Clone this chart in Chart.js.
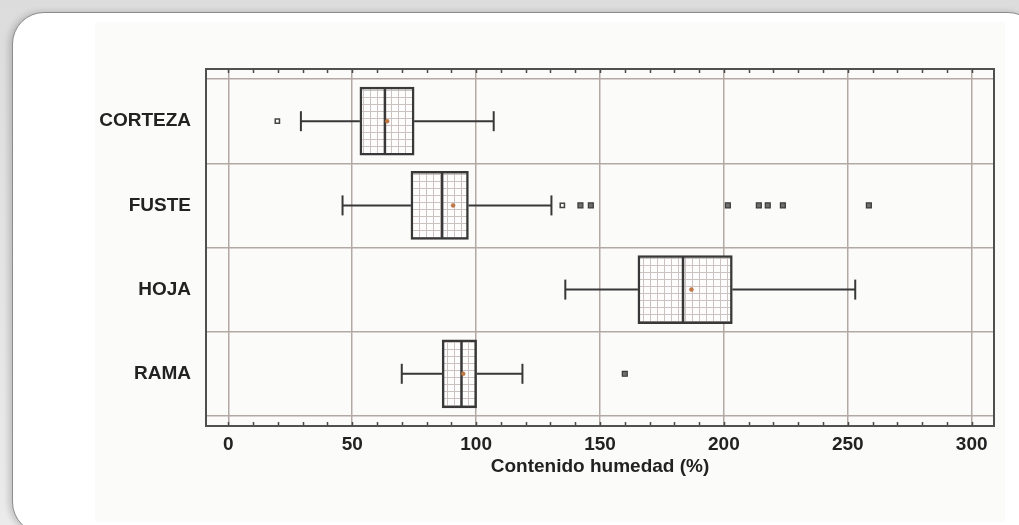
<!DOCTYPE html>
<html>
<head>
<meta charset="utf-8">
<title>Contenido humedad</title>
<script src="https://cdn.jsdelivr.net/npm/chart.js@4.4.1/dist/chart.umd.min.js"></script>
<style>
  html, body { margin: 0; padding: 0; }
  body {
    width: 1019px; height: 525px; overflow: hidden; position: relative;
    background: linear-gradient(#dcdcdc, #ebebeb);
  }
  #card {
    position: absolute; left: 12px; top: 12px; width: 1026px; height: 520px;
    background: #fff; border: 1px solid #8c8c8c; border-radius: 32px;
    box-shadow: -3px 0 6px rgba(0,0,0,0.18);
  }
  #panel {
    position: absolute; left: 95px; top: 22px; width: 910px; height: 500px;
    background: #fbfbfa;
  }
  #wrap { position: absolute; left: 0; top: 0; width: 1019px; height: 525px; }
</style>
</head>
<body>
<div id="card"></div>
<div id="panel"></div>
<div id="wrap"><canvas id="c" width="1019" height="525"></canvas></div>
<script>
// Moisture content (%) by tree component: box-and-whisker summary
const categories = ['CORTEZA', 'FUSTE', 'HOJA', 'RAMA'];
const whiskerLow  = [29.3, 46.1, 136.0, 70.0];
const quartile1   = [53.1, 73.7, 165.3, 86.3];
const medians     = [63.2, 86.3, 183.5, 94.1];
const means       = [64.1, 90.7, 186.9, 94.8];
const quartile3   = [75.0, 96.9, 203.4, 100.2];
const whiskerHigh = [107.1, 130.4, 253.0, 118.7];
const outsidePoints    = [[19.8], [134.8], [], []];
const farOutsidePoints = [[], [142.1, 146.3, 201.6, 214.1, 217.7, 223.8, 258.5], [], [160.0]];
const xTickValues = [0, 50, 100, 150, 200, 250, 300];
const xMin = -9, xMax = 309;
const minorStep = 10;
const axisTitle = 'Contenido humedad (%)';

const gridColor = '#b4a8a5';
const inkColor = '#383838';
const textFont = { family: "'Liberation Sans', Arial, sans-serif", size: 19, weight: 'bold' };

// light square grid used as the box fill
function gridPattern() {
  const p = document.createElement('canvas');
  p.width = 7; p.height = 7;
  const g = p.getContext('2d');
  g.fillStyle = '#fdfdfd';
  g.fillRect(0, 0, 7, 7);
  g.strokeStyle = '#cdc2c2';
  g.lineWidth = 1;
  g.beginPath();
  g.moveTo(6.5, 0); g.lineTo(6.5, 7);
  g.moveTo(0, 6.5); g.lineTo(7, 6.5);
  g.stroke();
  return document.getElementById('c').getContext('2d').createPattern(p, 'repeat');
}

// datasets built from the summary arrays
const boxData = categories.map((c, i) => ({ x: [quartile1[i], quartile3[i]], y: i }));
const whiskerData = [];
categories.forEach((c, i) => {
  whiskerData.push({ x: whiskerLow[i], y: i }, { x: quartile1[i], y: i }, { x: NaN, y: NaN });
  whiskerData.push({ x: quartile3[i], y: i }, { x: whiskerHigh[i], y: i }, { x: NaN, y: NaN });
});
const capData = [];
categories.forEach((c, i) => {
  capData.push({ x: whiskerLow[i], y: i }, { x: whiskerHigh[i], y: i });
});
const medianData = categories.map((c, i) => ({ x: medians[i], y: i }));
const meanData = categories.map((c, i) => ({ x: means[i], y: i }));
const outsideData = [];
outsidePoints.forEach((vals, i) => vals.forEach(v => outsideData.push({ x: v, y: i })));
const farData = [];
farOutsidePoints.forEach((vals, i) => vals.forEach(v => farData.push({ x: v, y: i })));

// outer frame with small tick marks every minorStep along top and bottom
const framePlugin = {
  id: 'frame',
  afterDraw(chart) {
    const { ctx, chartArea: a, scales } = chart;
    ctx.save();
    ctx.strokeStyle = '#4a4a4a';
    ctx.lineWidth = 1.5;
    ctx.beginPath();
    for (let v = xTickValues[0]; v <= xTickValues[xTickValues.length - 1]; v += minorStep) {
      const px = Math.round(scales.x.getPixelForValue(v)) + 0.5;
      ctx.moveTo(px, a.top); ctx.lineTo(px, a.top + 4);
      ctx.moveTo(px, a.bottom); ctx.lineTo(px, a.bottom - 4);
    }
    ctx.stroke();
    ctx.lineWidth = 2;
    ctx.strokeStyle = '#505050';
    ctx.strokeRect(a.left, a.top, a.right - a.left, a.bottom - a.top);
    ctx.restore();
  }
};

new Chart(document.getElementById('c'), {
  type: 'bar',
  data: {
    datasets: [
      {
        type: 'scatter', data: meanData, order: 1,
        pointStyle: 'circle', pointRadius: 2, pointHoverRadius: 2,
        backgroundColor: '#c27a45', borderColor: '#b0683a', borderWidth: 0.5
      },
      {
        type: 'scatter', data: medianData, order: 2,
        pointStyle: 'line', rotation: 90, pointRadius: 33.5, pointHoverRadius: 33.5,
        borderColor: inkColor, borderWidth: 2.5
      },
      {
        type: 'scatter', data: outsideData, order: 3,
        pointStyle: 'rect', pointRadius: 3, pointHoverRadius: 3,
        backgroundColor: '#ffffff', borderColor: '#454545', borderWidth: 1.5
      },
      {
        type: 'scatter', data: farData, order: 4,
        pointStyle: 'rect', pointRadius: 3.5, pointHoverRadius: 3.5,
        backgroundColor: '#6e6e6e', borderColor: '#3a3a3a', borderWidth: 1.2
      },
      {
        type: 'bar', data: boxData, order: 5, indexAxis: 'y',
        backgroundColor: gridPattern(), borderColor: inkColor, borderWidth: 2.5,
        borderSkipped: false, barThickness: 68
      },
      {
        type: 'scatter', data: capData, order: 6,
        pointStyle: 'line', rotation: 90, pointRadius: 10, pointHoverRadius: 10,
        borderColor: inkColor, borderWidth: 2
      },
      {
        type: 'scatter', data: whiskerData, order: 7, showLine: true, spanGaps: false,
        pointRadius: 0, borderColor: inkColor, borderWidth: 2
      }
    ]
  },
  options: {
    responsive: false,
    animation: false,
    events: [],
    indexAxis: 'y',
    layout: { autoPadding: false, padding: { left: 0, top: 69, right: 25, bottom: 0 } },
    plugins: { legend: { display: false }, tooltip: { enabled: false } },
    scales: {
      x: {
        type: 'linear', position: 'bottom', min: xMin, max: xMax, offset: false,
        afterBuildTicks(s) { s.ticks = xTickValues.map(v => ({ value: v })); },
        afterFit(s) { s.height = 99; s.paddingLeft = 0; s.paddingRight = 0; },
        grid: { color: gridColor, lineWidth: 1.5, drawTicks: false, offset: false },
        border: { display: false },
        ticks: { font: textFont, color: '#222', padding: 7 },
        title: {
          display: true, text: axisTitle, font: textFont, color: '#222',
          padding: { top: 0, bottom: 47 }
        }
      },
      y: {
        type: 'linear', position: 'left', reverse: true, offset: false,
        min: -0.62, max: categories.length - 1 + 0.62,
        afterBuildTicks(s) {
          const t = [];
          for (let k = 0; k <= categories.length * 2; k++) t.push({ value: -0.5 + k * 0.5 });
          s.ticks = t;
        },
        afterFit(s) { s.width = 206; s.paddingTop = 0; s.paddingBottom = 0; },
        grid: {
          lineWidth: 1.5, drawTicks: false, offset: false,
          color: c => (c.tick && Number.isInteger(c.tick.value)) ? 'rgba(0,0,0,0)' : gridColor
        },
        border: { display: false },
        ticks: {
          font: textFont, color: '#222', padding: 15,
          callback: v => Number.isInteger(v) ? categories[v] : ''
        }
      }
    }
  },
  plugins: [framePlugin]
});
</script>
</body>
</html>
